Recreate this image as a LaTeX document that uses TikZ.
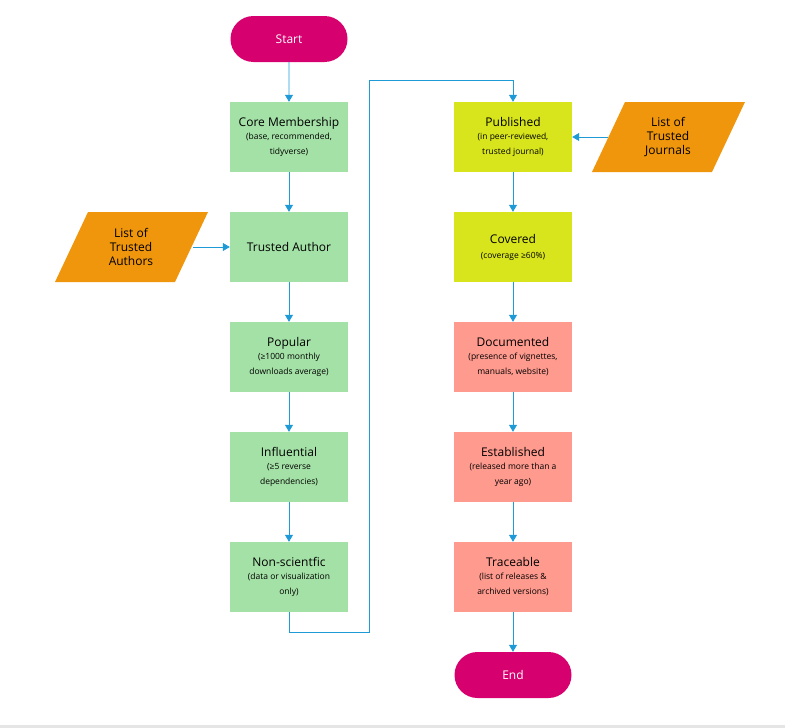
\documentclass[tikz,border=0pt]{standalone}
\usepackage{fontspec}
\setmainfont{Open Sans}
\usetikzlibrary{arrows.meta,shapes.misc}
\definecolor{grn}{HTML}{A4E1A6}
\definecolor{ylw}{HTML}{D8E51C}
\definecolor{sal}{HTML}{FF9A8E}
\definecolor{mag}{HTML}{D6006F}
\definecolor{org}{HTML}{F0960C}
\definecolor{arr}{HTML}{1E9BD7}
\newcommand\subt{\fontsize{8.5}{10}\selectfont}
\begin{document}
\begin{tikzpicture}[x=1pt,y=-1pt,
  box/.style={minimum width=118pt,minimum height=70pt,inner sep=0pt,align=center,font=\fontsize{12}{14}\selectfont},
  term/.style={rounded rectangle,fill=mag,text=white,minimum width=117pt,minimum height=46pt,inner sep=0pt,font=\fontsize{12}{14}\selectfont},
  par/.style={fill=org},
  con/.style={draw=arr,line width=0.8pt,-{Triangle[length=7pt,width=8pt]}}]
\useasboundingbox (0,0) rectangle (785,728);
\fill[gray!20] (0,725) rectangle (785,728);
\node[term] (start) at (289,39) {Start};
\node[box,fill=grn] (core) at (289,137) {Core Membership\\[-1pt]{\subt (base, recommended,}\\[1pt]{\subt tidyverse)}};
\node[box,fill=grn] (auth) at (289,247) {Trusted Author};
\node[box,fill=grn] (pop) at (289,357) {Popular\\[-1pt]{\subt (≥1000 monthly}\\[1pt]{\subt downloads average)}};
\node[box,fill=grn] (infl) at (289,467) {Influential\\[-1pt]{\subt (≥5 reverse}\\[1pt]{\subt dependencies)}};
\node[box,fill=grn] (nons) at (289,577) {Non-scientfic\\[-1pt]{\subt (data or visualization}\\[1pt]{\subt only)}};
\node[box,fill=ylw] (pub) at (513,137) {Published\\[-1pt]{\subt (in peer-reviewed,}\\[1pt]{\subt trusted journal)}};
\node[box,fill=ylw] (cov) at (513,247) {Covered\\[1pt]{\subt (coverage ≥60\%)}};
\node[box,fill=sal] (doc) at (513,357) {Documented\\[-1pt]{\subt (presence of vignettes,}\\[1pt]{\subt manuals, website)}};
\node[box,fill=sal] (est) at (513,467) {Established\\[-1pt]{\subt (released more than a}\\[1pt]{\subt year ago)}};
\node[box,fill=sal] (tra) at (513,577) {Traceable\\[-1pt]{\subt (list of releases \&}\\[1pt]{\subt archived versions)}};
\node[term] (end) at (513,675) {End};
\fill[par] (88,212) -- (208,212) -- (175,282) -- (55,282) -- cycle;
\node[align=center,font=\fontsize{12}{14}\selectfont] (la) at (131,247) {List of\\Trusted\\Authors};
\coordinate (lae) at (193,247);
\fill[par] (625,102) -- (745,102) -- (712,172) -- (592,172) -- cycle;
\node[align=center,font=\fontsize{12}{14}\selectfont] (lj) at (668,137) {List of\\Trusted\\Journals};
\coordinate (ljw) at (608,137);
\draw[con] (start) -- (core);
\draw[con] (core) -- (auth);
\draw[con] (auth) -- (pop);
\draw[con] (pop) -- (infl);
\draw[con] (infl) -- (nons);
\draw[con] (nons.south) -- ++(0,20) -| (369,80) -| (pub.north);
\draw[con] (pub) -- (cov);
\draw[con] (cov) -- (doc);
\draw[con] (doc) -- (est);
\draw[con] (est) -- (tra);
\draw[con] (tra) -- (end);
\draw[con] (lae) -- (auth);
\draw[con] (ljw) -- (pub);
\end{tikzpicture}
\end{document}
